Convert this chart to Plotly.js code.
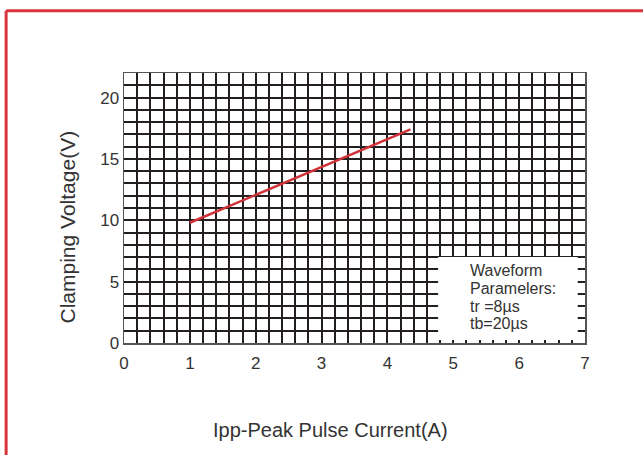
<!DOCTYPE html>
<html>
<head>
<meta charset="utf-8">
<script src="https://cdn.plot.ly/plotly-3.0.1.min.js"></script>
<style>
  html, body { margin: 0; padding: 0; background: #fff; overflow: hidden; }
  #chart { width: 643px; height: 455px; }
</style>
</head>
<body>
<div id="chart"></div>
<script>
// Data
const currentA = [1.0, 4.35];
const clampV = [9.8, 17.4];
const xTickVals = [0, 1, 2, 3, 4, 5, 6, 7];
const yTickVals = [0, 5, 10, 15, 20];
const noteLines = ["Waveform", "Paramelers:", "tr =8µs", "tb=20µs"];
const noteY = [5.94, 4.48, 3.01, 1.55];
const xTitle = "Ipp-Peak Pulse Current(A)";
const yTitle = "Clamping Voltage(V)";

const font = "Liberation Sans, Arial, sans-serif";
const gridCol = "#231f20";
const frameCol = "#d8353d";

const trace = {
  x: currentA, y: clampV, mode: "lines", type: "scatter",
  line: { color: "#cf3238", width: 2.5 }, hoverinfo: "skip", showlegend: false
};

const annotations = noteLines.map((t, i) => ({
  x: 5.22, y: noteY[i], xref: "x", yref: "y", text: t, showarrow: false,
  xanchor: "left", yanchor: "middle", align: "left",
  font: { family: font, size: 16, color: "#333" }
}));
annotations.push({
  x: 0.447, y: -0.322, xref: "paper", yref: "paper", text: xTitle, showarrow: false,
  xanchor: "center", yanchor: "middle", font: { family: font, size: 20, color: "#333" }
});
annotations.push({
  x: -0.1224, y: 0.43, xref: "paper", yref: "paper", text: yTitle, showarrow: false,
  textangle: -90, xanchor: "center", yanchor: "middle", font: { family: font, size: 21, color: "#333" }
});

const layout = {
  width: 643, height: 455,
  margin: { l: 123.5, r: 58, t: 72.7, b: 112 },
  paper_bgcolor: "#fff", plot_bgcolor: "#fff",
  font: { family: font, color: "#333" },
  xaxis: {
    range: [0, 7], tickvals: xTickVals, ticks: "", ticklen: 0, ticklabelstandoff: 4,
    showgrid: true, gridcolor: gridCol, gridwidth: 2,
    minor: { dtick: 0.2, showgrid: true, gridcolor: gridCol, gridwidth: 2, ticks: "" },
    zeroline: false, showline: true, linecolor: "#555", linewidth: 1.5, mirror: true,
    tickfont: { family: font, size: 17, color: "#333" },
    automargin: false
  },
  yaxis: {
    range: [0, 22], tickvals: yTickVals, ticks: "", ticklen: 0,
    showgrid: true, gridcolor: gridCol, gridwidth: 2,
    minor: { dtick: 1, showgrid: true, gridcolor: gridCol, gridwidth: 2, ticks: "" },
    zeroline: false, showline: true, linecolor: "#555", linewidth: 1.5, mirror: true,
    tickfont: { family: font, size: 17, color: "#333" },
    automargin: false
  },
  shapes: [
    { type: "rect", xref: "x", yref: "y", x0: 4.77, x1: 6.89, y0: 0.25, y1: 7.0,
      fillcolor: "#fff", line: { width: 0 }, layer: "above" },
    // outer red frame (top and left edges only)
    { type: "line", xref: "paper", yref: "paper", x0: -0.2557, x1: 1.2, y0: 1.2301, y1: 1.2301,
      line: { color: frameCol, width: 3 }, layer: "above" },
    { type: "line", xref: "paper", yref: "paper", x0: -0.2557, x1: -0.2557, y0: 1.2301, y1: -0.5,
      line: { color: frameCol, width: 3 }, layer: "above" }
  ],
  annotations: annotations
};

Plotly.newPlot("chart", [trace], layout, { staticPlot: true, displayModeBar: false });
</script>
</body>
</html>
